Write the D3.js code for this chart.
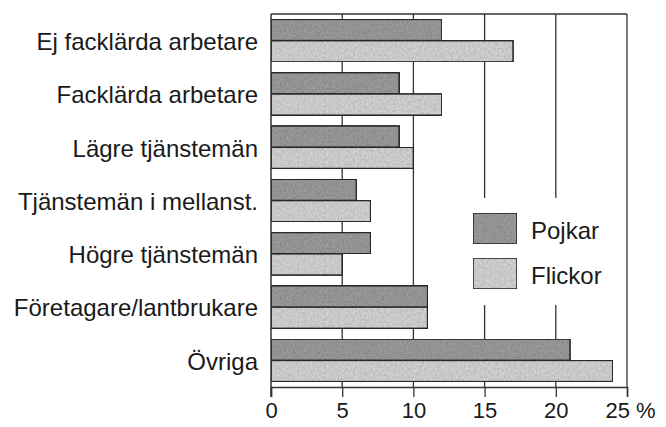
<!DOCTYPE html>
<html>
<head>
<meta charset="utf-8">
<script src="https://cdn.jsdelivr.net/npm/d3@7"></script>
<style>
  body { margin: 0; background: #fff; }
  svg text { font-family: "Liberation Sans", Arial, sans-serif; fill: #1a1a1a; }
</style>
</head>
<body>
<svg width="666" height="427"></svg>
<script>
const svg = d3.select("svg");

// Data
const categories = [
  "Ej facklärda arbetare",
  "Facklärda arbetare",
  "Lägre tjänstemän",
  "Tjänstemän i mellanst.",
  "Högre tjänstemän",
  "Företagare/lantbrukare",
  "Övriga"
];
const series = ["Pojkar", "Flickor"];
const pojkar = [12, 9, 9, 6, 7, 11, 21];
const flickor = [17, 12, 10, 7, 5, 11, 24];
const xTicks = [0, 5, 10, 15, 20, 25];

const rows = categories.map((c, i) => ({ cat: c, Pojkar: pojkar[i], Flickor: flickor[i] }));

// Layout
const plotLeft = 271, plotRight = 627, plotTop = 14, axisY = 387;

const x = d3.scaleLinear().domain([0, 25]).range([plotLeft, plotRight]);
const y = d3.scaleBand().domain(categories).range([plotTop, axisY]).paddingInner(0.2).paddingOuter(0.1);
const ySub = d3.scaleBand().domain(series).range([0, y.bandwidth()]);
const color = d3.scaleOrdinal().domain(series).range(["#9a9a9a", "#d2d2d2"]);

// Texture filter to mimic the printed screen
const defs = svg.append("defs");
const f = defs.append("filter").attr("id", "grain").attr("x", 0).attr("y", 0).attr("width", 1).attr("height", 1);
f.append("feTurbulence").attr("type", "fractalNoise").attr("baseFrequency", 0.45).attr("numOctaves", 2).attr("seed", 3).attr("result", "noise");
f.append("feColorMatrix").attr("in", "noise").attr("type", "matrix")
  .attr("values", "0 0 0 0 0  0 0 0 0 0  0 0 0 0 0  0 0 0 0.5 -0.15").attr("result", "dots");
f.append("feComposite").attr("in", "dots").attr("in2", "SourceGraphic").attr("operator", "atop");

// Grid lines
svg.append("g")
  .selectAll("line")
  .data(xTicks.slice(1))
  .join("line")
  .attr("x1", d => x(d)).attr("x2", d => x(d))
  .attr("y1", plotTop).attr("y2", axisY)
  .attr("stroke", "#333").attr("stroke-width", 1.3);

// Top border
svg.append("line")
  .attr("x1", x(0)).attr("x2", x(25)).attr("y1", plotTop).attr("y2", plotTop)
  .attr("stroke", "#333").attr("stroke-width", 1.5);

// Bars
svg.append("g")
  .selectAll("g")
  .data(rows)
  .join("g")
  .attr("transform", d => `translate(0,${y(d.cat)})`)
  .selectAll("rect")
  .data(d => series.map(s => ({ key: s, value: d[s] })))
  .join("rect")
  .attr("x", x(0))
  .attr("y", d => ySub(d.key))
  .attr("width", d => x(d.value) - x(0))
  .attr("height", ySub.bandwidth())
  .attr("fill", d => color(d.key))
  .attr("filter", "url(#grain)")
  .attr("stroke", "#2a2a2a")
  .attr("stroke-width", 1.6);

// X axis
const xAxis = svg.append("g")
  .attr("transform", `translate(0,${axisY})`)
  .call(d3.axisBottom(x).tickValues(xTicks).tickSize(10).tickPadding(5).tickFormat(d => d === 25 ? "25 %" : d));
xAxis.select(".domain").attr("stroke", "#333").attr("stroke-width", 1.5);
xAxis.selectAll(".tick line").attr("stroke", "#333").attr("stroke-width", 1.3);
xAxis.selectAll(".tick text").attr("font-size", 22).attr("fill", "#1a1a1a")
  .attr("font-family", "Liberation Sans, Arial, sans-serif")
  .attr("text-anchor", d => d === 25 ? "start" : "middle")
  .attr("dx", d => d === 25 ? -22 : 0);

// Y axis (left line + labels)
const yAxis = svg.append("g")
  .attr("transform", `translate(${plotLeft},0)`)
  .call(d3.axisLeft(y).tickSize(0).tickPadding(13));
yAxis.select(".domain").attr("d", `M0,${plotTop}V${axisY + 10}`).attr("stroke", "#333").attr("stroke-width", 1.5);
yAxis.selectAll(".tick text").attr("font-size", 24).attr("dy", "0.39em").attr("fill", "#1a1a1a")
  .attr("font-family", "Liberation Sans, Arial, sans-serif");

// Legend
const lg = svg.append("g");
lg.append("rect").attr("x", 462).attr("y", 198).attr("width", 158).attr("height", 107).attr("fill", "#fff");
const item = lg.selectAll("g")
  .data(series)
  .join("g")
  .attr("transform", (d, i) => `translate(473,${213 + i * 45})`);
item.append("rect")
  .attr("width", 44).attr("height", 31)
  .attr("fill", d => color(d))
  .attr("filter", "url(#grain)")
  .attr("stroke", "#2a2a2a").attr("stroke-width", 1.6);
item.append("text")
  .attr("x", 58).attr("y", 16).attr("dy", "0.42em")
  .attr("font-size", 24)
  .text(d => d);
</script>
</body>
</html>
